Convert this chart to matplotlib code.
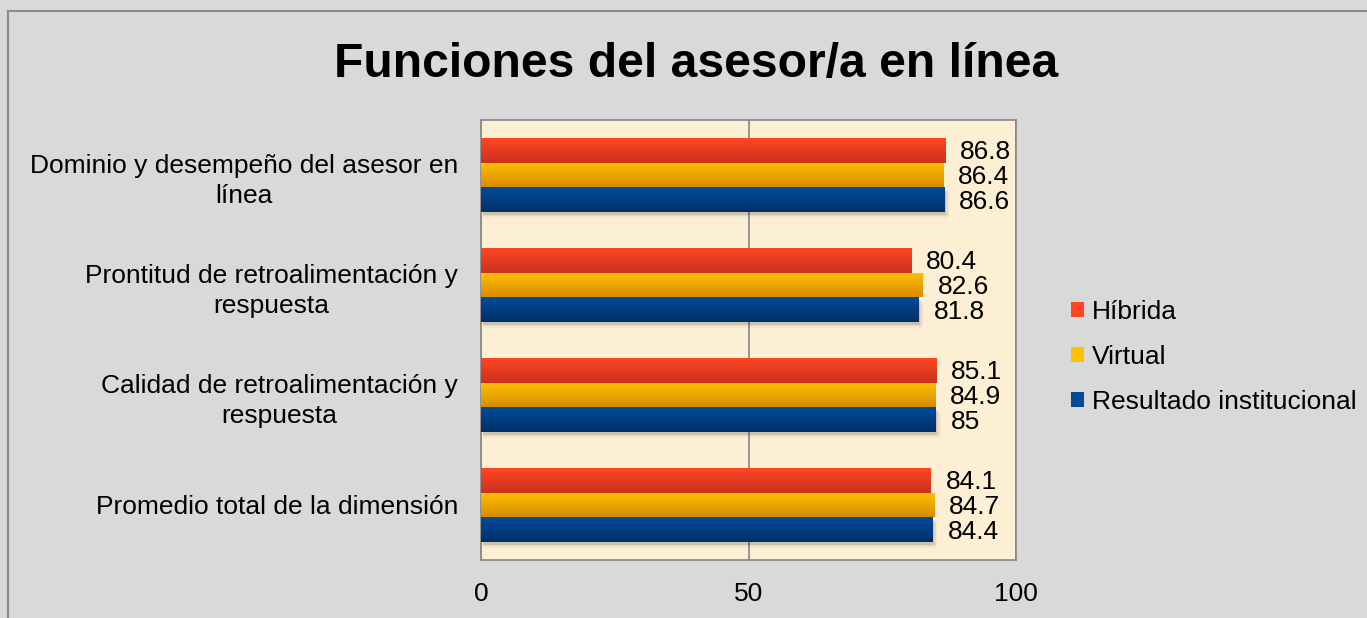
import numpy as np
import matplotlib.pyplot as plt
from matplotlib.patches import Rectangle
from matplotlib.colors import LinearSegmentedColormap

categories = [
    "Dominio y desempeño del asesor en\nlínea",
    "Prontitud de retroalimentación y\nrespuesta",
    "Calidad de retroalimentación y\nrespuesta",
    "Promedio total de la dimensión",
]
series_names = ["Híbrida", "Virtual", "Resultado institucional"]
hibrida = [86.8, 80.4, 85.1, 84.1]
virtual = [86.4, 82.6, 84.9, 84.7]
institucional = [86.6, 81.8, 85, 84.4]
value_labels = [
    ["86.8", "80.4", "85.1", "84.1"],
    ["86.4", "82.6", "84.9", "84.7"],
    ["86.6", "81.8", "85", "84.4"],
]

# (top colour, bottom colour) for the Excel-like gradient
grads = [("#ff4624", "#c9321d"), ("#ffc000", "#d88c00"), ("#004c9a", "#002f68")]

plt.rcParams['font.family'] = ['Liberation Sans', 'DejaVu Sans']

fig = plt.figure(figsize=(13.67, 6.18), dpi=100)
fig.patch.set_facecolor("#d9d9d9")
fig.patches.append(Rectangle((8 / 1367, -0.1), 1.2, (618 - 11) / 618 + 0.1,
                             transform=fig.transFigure, fill=False,
                             edgecolor="#8c8c8c", linewidth=1.5))

ax = fig.add_axes([481 / 1367, 58 / 618, 535 / 1367, 440 / 618])
ax.set_facecolor("#fdefd4")

h = 0.227
series = [hibrida, virtual, institucional]
offsets = [-h, 0, h]
y = np.arange(len(categories))

for si, vals in enumerate(series):
    cmap = LinearSegmentedColormap.from_list("g", [grads[si][0], grads[si][1]])
    for ci, v in enumerate(vals):
        yc = y[ci] + offsets[si]
        # soft shadow under the group
        if si == 2:
            for k, a in enumerate([0.10, 0.06, 0.03]):
                ax.add_patch(Rectangle((0.3, yc - h / 2 + 0.02 + 0.015 * k), v + 0.3 * k, h,
                                       facecolor="#000000", alpha=a, edgecolor="none", zorder=2))
        bar = ax.barh(yc, v, height=h, color=grads[si][0], edgecolor="none", zorder=3)[0]
        grad = np.linspace(0, 1, 50).reshape(-1, 1)
        im = ax.imshow(grad, cmap=cmap, aspect="auto", zorder=4,
                       extent=(0, v, yc + h / 2, yc - h / 2), origin="upper")
        im.set_clip_path(bar)
        ax.text(v + 2.8, yc + 0.02, value_labels[si][ci], va="center", ha="left",
                fontsize=19, zorder=5)

ax.set_xlim(0, 100)
ax.set_ylim(len(categories) - 0.5, -0.5)
ax.set_xticks([0, 50, 100])
ax.set_xticklabels(["0", "50", "100"], fontsize=19)
ax.xaxis.grid(True, color="#868686", linewidth=1.2, zorder=1)
ax.set_axisbelow(True)
ax.tick_params(axis="x", length=0, pad=16)
ax.set_yticks(y)
ax.set_yticklabels(categories, fontsize=19, ha="right", multialignment="center",
                   linespacing=1.35)
ax.tick_params(axis="y", length=0, pad=16.5)
for s in ax.spines.values():
    s.set_color("#868686")
    s.set_linewidth(1.2)

handles = [Rectangle((0, 0), 1, 1, facecolor=grads[i][0]) for i in range(3)]
fig.legend(handles, series_names, loc="center left", bbox_to_anchor=(1047 / 1367, 1 - 357 / 618),
           frameon=False, fontsize=19, handlelength=0.5, handleheight=0.5,
           handletextpad=0.3, labelspacing=0.8)

fig.text(696 / 1367, 1 - 64 / 618, "Funciones del asesor/a en línea", ha="center",
         va="center", fontsize=34.6, fontweight="bold")

fig.savefig("out.png", dpi=100, facecolor=fig.get_facecolor())
